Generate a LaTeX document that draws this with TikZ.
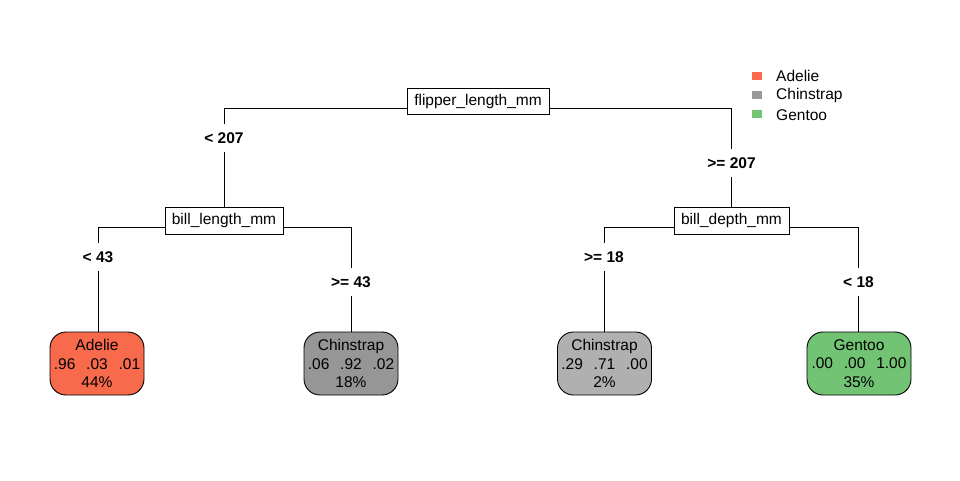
\documentclass[tikz,border=0pt]{standalone}
\usepackage{fontspec}
\setmainfont{Liberation Sans}
\definecolor{cAd}{HTML}{F76A4C}
\definecolor{cCh1}{HTML}{969696}
\definecolor{cCh2}{HTML}{B0B0B0}
\definecolor{cGe}{HTML}{72C474}
\definecolor{lAd}{HTML}{FB6A4A}
\definecolor{lCh}{HTML}{999999}
\definecolor{lGe}{HTML}{74C476}
\tikzset{
  splitbox/.style={draw=black, fill=white, line width=0.9pt, inner sep=0pt, minimum height=26, font=\fontsize{15.5}{18.5}\selectfont},
  leafbox/.style={draw=black, line width=0.9pt, rounded corners=16, minimum width=94, minimum height=63, inner sep=0pt, align=center, font=\fontsize{15.5}{18.5}\selectfont},
  brlabel/.style={inner sep=0pt, minimum height=28, font=\fontsize{15.5}{18.5}\selectfont\bfseries},
  edge/.style={draw=black, line width=0.9pt},
  legsq/.style={fill, minimum width=10, minimum height=8, inner sep=0pt},
  legtxt/.style={anchor=west, inner sep=0pt, font=\fontsize{15.5}{18.5}\selectfont}
}
\newcommand{\gp}{\hspace{0.7em}}
\begin{document}
\begin{tikzpicture}[x=1pt,y=-1pt]
\useasboundingbox[fill=white] (0,0) rectangle (960,480);
% split nodes
\node[splitbox, minimum width=142] (root) at (478,101) {flipper\_length\_mm};
\node[splitbox, minimum width=118, minimum height=27] (bl) at (224,220.5) {bill\_length\_mm};
\node[splitbox, minimum width=115, minimum height=27] (bd) at (731.5,220.5) {bill\_depth\_mm};
% branch labels
\node[brlabel] (l207) at (224,138) {< 207};
\node[brlabel] (r207) at (731.5,163) {>= 207};
\node[brlabel] (l43) at (98,257) {< 43};
\node[brlabel] (r43) at (351,282) {>= 43};
\node[brlabel] (l18) at (604,257) {>= 18};
\node[brlabel] (r18) at (858.5,282) {< 18};
% leaves
\node[leafbox, fill=cAd] (la) at (97,363.5) {Adelie\\.96\gp.03\gp.01\\44\%};
\node[leafbox, fill=cCh1] (lc1) at (351,363.5) {Chinstrap\\.06\gp.92\gp.02\\18\%};
\node[leafbox, fill=cCh2] (lc2) at (604.5,363.5) {Chinstrap\\.29\gp.71\gp.00\\2\%};
\node[leafbox, fill=cGe, minimum width=104] (lg) at (859,363.5) {Gentoo\\.00\gp.00\gp1.00\\35\%};
% connectors
\path[edge] ([yshift=-7pt]root.west) -| (l207.north);
\path[edge] (l207.south) -- (l207.south |- bl.north);
\path[edge] ([yshift=-7pt]root.east) -| (r207.north);
\path[edge] (r207.south) -- (r207.south |- bd.north);
\path[edge] ([yshift=-6.5pt]bl.west) -| (l43.north);
\path[edge] (l43.south) -- (l43.south |- la.north);
\path[edge] ([yshift=-6.5pt]bl.east) -| (r43.north);
\path[edge] (r43.south) -- (r43.south |- lc1.north);
\path[edge] ([yshift=-6.5pt]bd.west) -| (l18.north);
\path[edge] (l18.south) -- (l18.south |- lc2.north);
\path[edge] ([yshift=-6.5pt]bd.east) -| (r18.north);
\path[edge] (r18.south) -- (r18.south |- lg.north);
% legend
\node[legsq, lAd] (sqa) at (757,75.5) {};
\node[legsq, lCh] (sqc) at (757,94.5) {};
\node[legsq, lGe] (sqg) at (757,114) {};
\node[legtxt] (ta) at (776,76) {Adelie};
\node[legtxt] (tc) at (776,95.5) {Chinstrap};
\node[legtxt] (tg) at (776,115) {Gentoo};
\end{tikzpicture}
\end{document}
